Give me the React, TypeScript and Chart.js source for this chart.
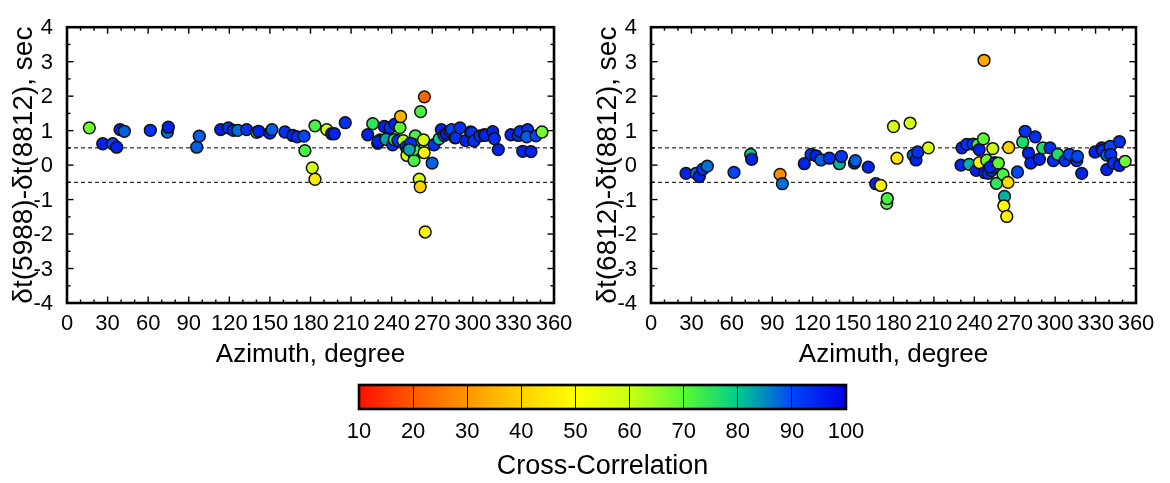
import React, { useEffect, useRef } from 'react';
import { Chart, registerables } from 'chart.js';

Chart.register(...registerables);

const FONT = "'Liberation Sans', Arial, Helvetica, sans-serif";

// ---------- Left panel: δt(5988)-δt(8812) ----------
const leftAz = [16.5, 26.4, 33.8, 36.7, 39.2, 42.4, 61.6, 74.2, 74.9, 95.9, 97.8, 113.6, 119.3, 123.0, 126.2, 132.8, 140.2, 141.7, 150.0, 151.5, 161.1, 166.8, 170.2, 175.2, 175.9, 183.3, 181.3, 183.3, 192.0, 195.6, 197.6, 205.7, 222.3, 226.0, 229.7, 231.4, 230.1, 234.6, 235.8, 238.8, 240.7, 241.9, 242.5, 246.1, 246.6, 244.6, 248.6, 250.6, 251.8, 251.3, 256.5, 256.5, 257.5, 256.6, 256.5, 261.4, 264.2, 263.6, 264.0, 260.4, 261.1, 264.8, 269.9, 271.3, 275.0, 276.7, 278.8, 280.6, 283.1, 284.3, 286.8, 287.5, 290.5, 294.7, 298.4, 299.1, 300.8, 305.3, 308.5, 309.0, 314.7, 315.9, 318.8, 328.2, 333.6, 334.9, 336.9, 340.5, 339.8, 343.0, 346.7, 351.1, 254.0, 253.0];
const leftDt = [1.08, 0.62, 0.62, 0.52, 1.03, 0.98, 1.01, 0.96, 1.10, 0.52, 0.84, 1.03, 1.08, 1.01, 1.01, 1.03, 0.95, 0.98, 0.93, 1.03, 0.96, 0.86, 0.82, 0.84, 0.42, 1.14, -0.08, -0.41, 1.03, 0.91, 0.91, 1.23, 0.88, 1.20, 0.63, 0.73, 0.68, 1.12, 0.75, 1.09, 0.59, 0.74, 1.19, 1.09, 1.41, 0.71, 0.71, 0.53, 0.42, 0.28, 0.31, 0.13, 0.85, 0.59, 0.45, 1.55, 1.98, 0.73, 0.36, -0.41, -0.63, -1.94, 0.06, 0.59, 0.76, 1.03, 0.86, 0.91, 0.98, 1.03, 0.79, 0.80, 1.08, 0.71, 0.96, 0.94, 0.70, 0.85, 0.88, 0.86, 0.97, 0.77, 0.45, 0.88, 0.86, 0.97, 0.40, 1.03, 0.82, 0.39, 0.85, 0.96, 0.63, 0.45];
const leftCc = [68, 95, 90, 95, 95, 88, 93, 87, 95, 88, 88, 95, 93, 93, 87, 93, 75, 95, 95, 88, 93, 95, 93, 90, 72, 72, 58, 45, 57, 96, 95, 93, 95, 75, 95, 93, 95, 95, 83, 93, 93, 75, 95, 70, 35, 93, 62, 93, 83, 58, 82, 72, 72, 72, 72, 72, 22, 58, 48, 57, 40, 47, 88, 93, 80, 95, 93, 95, 93, 90, 93, 93, 93, 95, 95, 93, 93, 93, 93, 95, 95, 93, 95, 95, 93, 93, 95, 93, 88, 95, 90, 68, 93, 83];

// ---------- Right panel: δt(6812)-δt(8812) ----------
const rightAz = [26.0, 33.4, 35.9, 38.4, 41.8, 61.6, 74.0, 74.7, 95.8, 97.5, 113.8, 118.8, 122.5, 126.2, 132.4, 139.8, 141.3, 151.0, 151.7, 161.3, 166.8, 170.5, 175.0, 175.4, 180.0, 182.6, 192.3, 194.7, 196.7, 198.0, 205.9, 230.1, 230.8, 234.4, 236.2, 239.0, 241.4, 242.5, 243.7, 243.6, 246.7, 247.2, 247.8, 249.2, 250.4, 253.7, 252.6, 255.2, 254.1, 251.7, 257.8, 256.4, 261.3, 265.5, 265.0, 262.4, 261.9, 264.1, 272.0, 275.9, 277.7, 280.2, 281.9, 285.2, 288.3, 290.8, 296.2, 298.7, 301.9, 307.3, 310.5, 316.0, 316.5, 319.7, 329.6, 334.6, 335.3, 338.3, 338.3, 340.8, 341.3, 343.2, 347.7, 347.7, 351.9];
const rightDt = [-0.24, -0.24, -0.33, -0.12, -0.03, -0.21, 0.31, 0.17, -0.27, -0.54, 0.04, 0.31, 0.27, 0.15, 0.20, 0.04, 0.25, 0.06, 0.13, -0.06, -0.54, -0.59, -1.11, -0.97, 1.12, 0.20, 1.22, 0.29, 0.15, 0.38, 0.50, 0.00, 0.50, 0.60, 0.02, 0.61, -0.15, 0.59, 0.07, 0.45, 0.76, 3.04, -0.22, 0.14, -0.24, 0.48, -0.16, 0.07, -0.06, -0.06, 0.06, -0.53, -0.27, 0.51, -0.50, -0.91, -1.18, -1.49, -0.20, 0.67, 0.98, 0.35, 0.06, 0.82, 0.17, 0.50, 0.50, 0.13, 0.31, 0.13, 0.31, 0.13, 0.25, -0.24, 0.38, 0.50, 0.43, -0.13, 0.29, 0.54, 0.31, 0.06, 0.68, -0.01, 0.11];
const rightCc = [95, 88, 95, 93, 87, 90, 80, 95, 28, 87, 95, 93, 95, 88, 93, 82, 92, 95, 88, 95, 95, 48, 70, 72, 57, 45, 58, 88, 95, 93, 57, 95, 95, 93, 82, 93, 95, 72, 47, 95, 70, 33, 95, 68, 93, 60, 93, 93, 88, 95, 70, 75, 72, 40, 42, 82, 48, 48, 90, 77, 93, 95, 95, 93, 95, 77, 93, 93, 77, 93, 90, 93, 90, 95, 95, 95, 93, 95, 88, 90, 93, 93, 93, 95, 68];

// ---------- Axes / ticks ----------
const azTicks = [0, 30, 60, 90, 120, 150, 180, 210, 240, 270, 300, 330, 360];
const azMinorTicks = [10, 20, 40, 50, 70, 80, 100, 110, 130, 140, 160, 170, 190, 200, 220, 230, 250, 260, 280, 290, 310, 320, 340, 350];
const dtTicks = [-4, -3, -2, -1, 0, 1, 2, 3, 4];
const dtMinorTicks = [-3.5, -2.5, -1.5, -0.5, 0.5, 1.5, 2.5, 3.5];
const refLevels = [0.5, -0.5];
const azRange = [0, 360];

// ---------- Colour scale ----------
const ccTicks = [10, 20, 30, 40, 50, 60, 70, 80, 90, 100];
const ccStopColors = [
  [255, 15, 0], [255, 90, 0], [255, 150, 0], [255, 210, 0], [255, 255, 0],
  [200, 255, 20], [90, 250, 50], [0, 205, 140], [0, 70, 250], [0, 0, 230],
];

function ccColor(v: number): string {
  const s = ccTicks;
  if (v <= s[0]) return `rgb(${ccStopColors[0].join(',')})`;
  for (let i = 0; i < s.length - 1; i++) {
    if (v <= s[i + 1]) {
      const t = (v - s[i]) / (s[i + 1] - s[i]);
      const a = ccStopColors[i], b = ccStopColors[i + 1];
      const c = a.map((av, k) => Math.round(av + (b[k] - av) * t));
      return `rgb(${c.join(',')})`;
    }
  }
  return `rgb(${ccStopColors[ccStopColors.length - 1].join(',')})`;
}

const framePlugin = {
  id: 'frameTicks',
  afterDraw(chart: any) {
    const { ctx, chartArea: a, scales } = chart;
    const xs = scales.x, ys = scales.y;
    ctx.save();
    ctx.strokeStyle = '#000';
    ctx.lineWidth = 1.4;
    const seg = (x1: number, y1: number, x2: number, y2: number) => {
      ctx.beginPath(); ctx.moveTo(x1, y1); ctx.lineTo(x2, y2); ctx.stroke();
    };
    const major = 6.5, minor = 3.5;
    azTicks.forEach((v) => { const p = xs.getPixelForValue(v); seg(p, a.bottom, p, a.bottom - major); seg(p, a.top, p, a.top + major); });
    azMinorTicks.forEach((v) => { const p = xs.getPixelForValue(v); seg(p, a.bottom, p, a.bottom - minor); seg(p, a.top, p, a.top + minor); });
    dtTicks.forEach((v) => { const p = ys.getPixelForValue(v); seg(a.left, p, a.left + major, p); seg(a.right, p, a.right - major, p); });
    dtMinorTicks.forEach((v) => { const p = ys.getPixelForValue(v); seg(a.left, p, a.left + minor, p); seg(a.right, p, a.right - minor, p); });
    ctx.lineWidth = 2.6;
    ctx.strokeRect(a.left, a.top, a.right - a.left, a.bottom - a.top);
    ctx.restore();
  },
};

function makePlot(canvas: HTMLCanvasElement, az: number[], dt: number[], cc: number[], yTitle: string, padRight: number) {
  const pts = az.map((x, i) => ({ x, y: dt[i] }));
  const cols = cc.map(ccColor);
  const refSets = refLevels.map((lv) => ({
    type: 'line' as const,
    data: azRange.map((x) => ({ x, y: lv })),
    borderColor: '#000',
    borderWidth: 1,
    borderDash: [4, 3],
    pointRadius: 0,
    showLine: true,
    fill: false,
    order: 2,
  }));
  return new Chart(canvas, {
    type: 'scatter',
    data: {
      datasets: [
        {
          data: pts,
          pointBackgroundColor: cols,
          pointBorderColor: '#111',
          pointBorderWidth: 1.5,
          pointRadius: 5.9,
          pointHoverRadius: 5.9,
          showLine: false,
          order: 0,
        } as any,
        ...(refSets as any[]),
      ],
    },
    options: {
      animation: false,
      responsive: false,
      maintainAspectRatio: false,
      devicePixelRatio: 1,
      events: [],
      layout: { padding: { left: 0, top: 13, right: padRight, bottom: 0 } },
      plugins: { legend: { display: false }, tooltip: { enabled: false } },
      scales: {
        x: {
          type: 'linear',
          position: 'bottom',
          min: 0,
          max: 360,
          afterBuildTicks: (s: any) => { s.ticks = azTicks.map((v) => ({ value: v })); },
          afterFit: (s: any) => { s.height = 77; },
          grid: { display: false, drawTicks: false },
          border: { display: false },
          ticks: { autoSkip: false, maxRotation: 0, minRotation: 0, padding: 8, color: '#000', font: { family: FONT, size: 22 } },
          title: { display: true, text: 'Azimuth, degree', color: '#000', font: { family: FONT, size: 26 }, padding: { top: 0, bottom: 10 } },
        },
        y: {
          type: 'linear',
          min: -4,
          max: 4,
          afterBuildTicks: (s: any) => { s.ticks = dtTicks.map((v) => ({ value: v })); },
          afterFit: (s: any) => { s.width = 67; },
          grid: { display: false, drawTicks: false },
          border: { display: false },
          ticks: { autoSkip: false, padding: 14, labelOffset: 1, color: '#000', font: { family: FONT, size: 22 } },
          title: { display: true, text: yTitle, color: '#000', font: { family: FONT, size: 28 }, padding: { top: 7, bottom: 0 } },
        },
      },
    } as any,
    plugins: [framePlugin],
  });
}

const gradientPlugin = {
  id: 'ccGradient',
  beforeDraw(chart: any) {
    const { ctx, chartArea: a } = chart;
    const g = ctx.createLinearGradient(a.left, 0, a.right, 0);
    const lo = ccTicks[0], hi = ccTicks[ccTicks.length - 1];
    ccTicks.forEach((v, i) => g.addColorStop((v - lo) / (hi - lo), `rgb(${ccStopColors[i].join(',')})`));
    ctx.save();
    ctx.fillStyle = g;
    ctx.fillRect(a.left, a.top, a.right - a.left, a.bottom - a.top);
    ctx.restore();
  },
  afterDraw(chart: any) {
    const { ctx, chartArea: a } = chart;
    ctx.save();
    ctx.strokeStyle = '#000';
    ctx.lineWidth = 2.6;
    ctx.strokeRect(a.left, a.top, a.right - a.left, a.bottom - a.top);
    ctx.restore();
  },
};

function makeColorbar(canvas: HTMLCanvasElement) {
  return new Chart(canvas, {
    type: 'scatter',
    data: { datasets: [] },
    options: {
      animation: false,
      responsive: false,
      maintainAspectRatio: false,
      devicePixelRatio: 1,
      events: [],
      layout: { padding: { left: 39, right: 34, top: 5, bottom: 0 } },
      plugins: { legend: { display: false }, tooltip: { enabled: false } },
      scales: {
        x: {
          type: 'linear',
          position: 'bottom',
          min: ccTicks[0],
          max: ccTicks[ccTicks.length - 1],
          afterBuildTicks: (s: any) => { s.ticks = ccTicks.map((v) => ({ value: v })); },
          afterFit: (s: any) => { s.height = 74; },
          grid: { display: true, drawTicks: false, color: '#000', lineWidth: 1 },
          border: { display: false },
          ticks: { autoSkip: false, maxRotation: 0, minRotation: 0, padding: 10, color: '#000', font: { family: FONT, size: 22 } },
          title: { display: true, text: 'Cross-Correlation', color: '#000', font: { family: FONT, size: 27 }, padding: { top: 0, bottom: 0 } },
        },
        y: { type: 'linear', display: false, min: 0, max: 1 },
      },
    } as any,
    plugins: [gradientPlugin],
  });
}

export default function App() {
  const leftRef = useRef<HTMLCanvasElement>(null);
  const rightRef = useRef<HTMLCanvasElement>(null);
  const cbRef = useRef<HTMLCanvasElement>(null);

  useEffect(() => {
    const charts = [
      makePlot(leftRef.current!, leftAz, leftDt, leftCc, 'δt(5988)-δt(8812), sec', 31),
      makePlot(rightRef.current!, rightAz, rightDt, rightCc, 'δt(6812)-δt(8812), sec', 34),
      makeColorbar(cbRef.current!),
    ];
    return () => charts.forEach((c) => c.destroy());
  }, []);

  return (
    <div style={{ position: 'absolute', left: 0, top: 0, width: 1170, height: 483, background: '#fff', overflow: 'hidden' }}>
      <canvas ref={leftRef} width={585} height={380} style={{ position: 'absolute', left: 0, top: 0, width: 585, height: 380 }} />
      <canvas ref={rightRef} width={586} height={380} style={{ position: 'absolute', left: 584, top: 0, width: 586, height: 380 }} />
      <canvas ref={cbRef} width={560} height={103} style={{ position: 'absolute', left: 320, top: 380, width: 560, height: 103 }} />
    </div>
  );
}
